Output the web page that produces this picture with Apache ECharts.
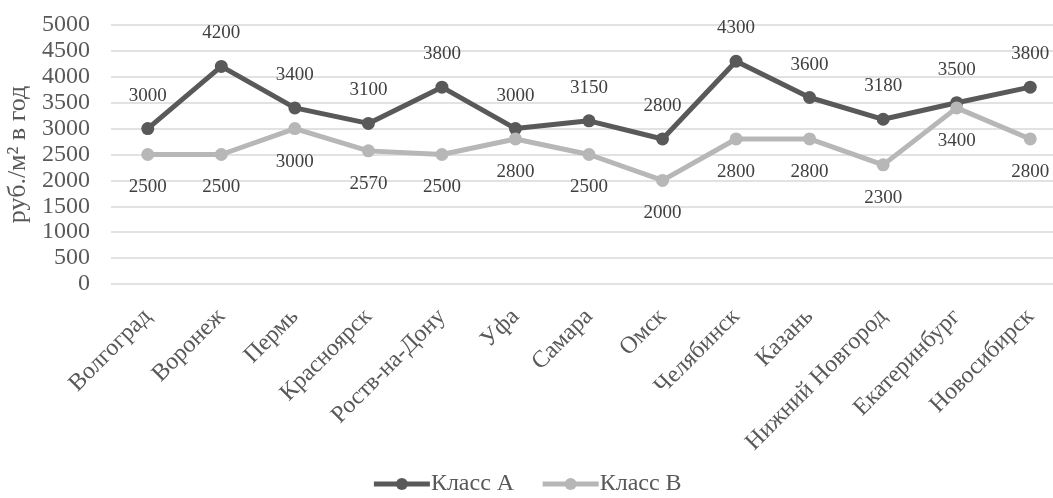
<!DOCTYPE html>
<html><head><meta charset="utf-8">
<script src="https://cdn.jsdelivr.net/npm/echarts@6/dist/echarts.min.js"></script>
<style>html,body{margin:0;padding:0;background:#fff;overflow:hidden}#c{width:1053px;height:498px}</style>
</head><body><div id="c"></div>
<script>
var categories = ['Волгоград','Воронеж','Пермь','Красноярск','Роств-на-Дону','Уфа','Самара','Омск','Челябинск','Казань','Нижний Новгород','Екатеринбург','Новосибирск'];
var classA = [3000,4200,3400,3100,3800,3000,3150,2800,4300,3600,3180,3500,3800];
var classB = [2500,2500,3000,2570,2500,2800,2500,2000,2800,2800,2300,3400,2800];
var seriesNames = ['Класс A','Класс B'];
var yTitle = 'руб./м² в год';
var font = '"Liberation Serif","Times New Roman",serif';
var chart = echarts.init(document.getElementById('c'));
chart.setOption({
  animation:false,
  textStyle:{fontFamily:font},
  grid:{left:111,width:956,top:25,bottom:214,containLabel:false,outerBoundsMode:'none'},
  legend:{top:467,left:'center',itemWidth:56,itemHeight:15,itemGap:26,
    lineStyle:{width:5},
    textStyle:{fontFamily:font,fontSize:24,color:'#595959',padding:[0,0,0,-4]},data:seriesNames},
  xAxis:{type:'category',data:categories,boundaryGap:true,
    axisLine:{show:false},axisTick:{show:false},
    axisLabel:{rotate:45,interval:0,fontFamily:font,fontSize:24,color:'#595959',margin:29}},
  yAxis:{type:'value',min:0,max:5000,interval:500,
    name:yTitle,nameLocation:'middle',nameGap:75,nameRotate:90,
    nameTextStyle:{fontFamily:font,fontSize:26,color:'#595959'},
    axisLine:{show:false},axisTick:{show:false},
    axisLabel:{fontFamily:font,fontSize:24,color:'#595959',margin:21,formatter:function(v){return String(v);}},
    splitLine:{lineStyle:{color:'#d9d9d9',width:1.5}}},
  series:[
    {name:seriesNames[0],type:'line',data:classA,symbol:'circle',symbolSize:13,
      lineStyle:{color:'#595959',width:5},itemStyle:{color:'#595959'},z:3,
      label:{show:true,position:'top',distance:17,fontFamily:font,fontSize:19,color:'#404040'}},
    {name:seriesNames[1],type:'line',data:classB,symbol:'circle',symbolSize:13,
      lineStyle:{color:'#b7b7b7',width:5},itemStyle:{color:'#b7b7b7'},z:4,
      label:{show:true,position:'bottom',distance:17,fontFamily:font,fontSize:19,color:'#404040'}}
  ]
});
</script></body></html>
